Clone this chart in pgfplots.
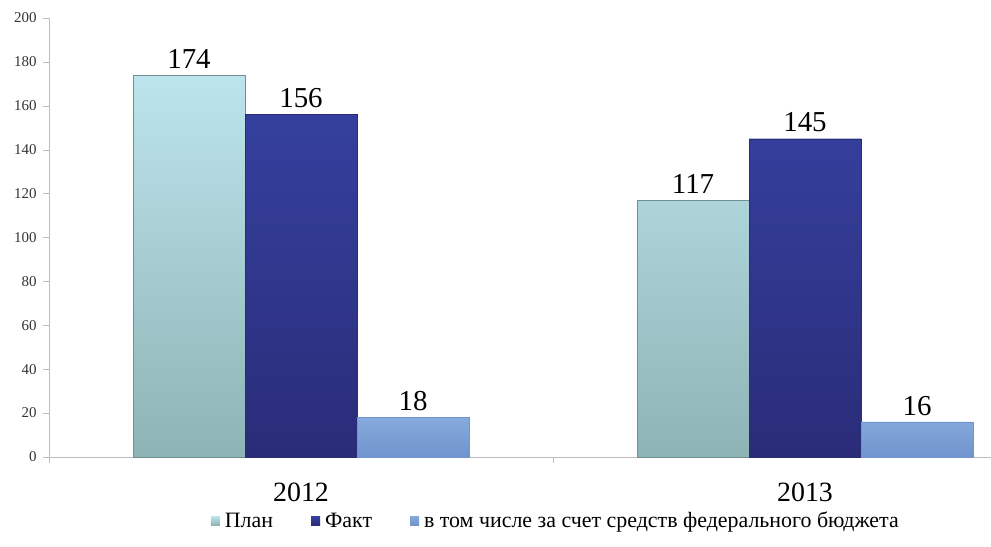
\documentclass[border=0pt]{standalone}
\usepackage{fontspec}
\setmainfont{Liberation Serif}
\usepackage{pgfplots}
\pgfplotsset{compat=1.18}
\definecolor{plantop}{HTML}{BCE4EC}
\definecolor{planbot}{HTML}{8DB4B5}
\definecolor{facttop}{HTML}{35409E}
\definecolor{factbot}{HTML}{2A2C78}
\definecolor{fedtop}{HTML}{86AADD}
\definecolor{fedbot}{HTML}{7094CC}
\definecolor{axisgray}{HTML}{BDBDBD}

\begin{document}
\begin{tikzpicture}
\begin{axis}[
  scale only axis, width=942bp, height=439bp,
  ybar=0pt, bar width=112bp,
  xmin=-0.5, xmax=1.369, ymin=0, ymax=200,
  ytick={0,20,...,200},
  xtick={-0.5,0.5}, xticklabels={,,},
  extra x ticks={0,1}, extra x tick labels={2012,2013},
  extra x tick style={major tick length=0pt},
  axis x line=bottom, axis y line=left,
  axis line style={-, draw=axisgray},
  tick style={draw=axisgray},
  tick align=outside, major tick length=6bp,
  /pgf/number format/assume math mode=true,
  yticklabel style={font=\fontsize{15}{15}\selectfont, text=black!80, xshift=-3bp},
  xticklabel style={font=\fontsize{28}{28}\selectfont, yshift=-22bp},
  nodes near coords,
  every node near coord/.append style={font=\fontsize{29}{29}\selectfont, text=black, yshift=3bp},
  legend style={draw=none, fill=none, at={(0.538,-0.145)}, anchor=center,
    legend columns=3, font=\fontsize{22}{22}\selectfont,
    /tikz/every even column/.append style={column sep=36bp}},
  legend image code/.code={\draw[#1, draw=none] (0bp,-4.5bp) rectangle (9bp,4.5bp);},
]
\addplot[draw=planbot!80!black, line width=0.4bp, top color=plantop, bottom color=planbot] coordinates {(0,174) (1,117)};
\addlegendentry{\hspace{3bp}План}
\addplot[draw=factbot, line width=0.4bp, top color=facttop, bottom color=factbot] coordinates {(0,156) (1,145)};
\addlegendentry{\hspace{3bp}Факт}
\addplot[draw=fedbot, line width=0.4bp, top color=fedtop, bottom color=fedbot] coordinates {(0,18) (1,16)};
\addlegendentry{\hspace{3bp}в том числе за счет средств федерального бюджета}
\end{axis}
\pgfresetboundingbox
\path (-49bp,-90bp) rectangle (942bp,457bp);
\end{tikzpicture}
\end{document}
